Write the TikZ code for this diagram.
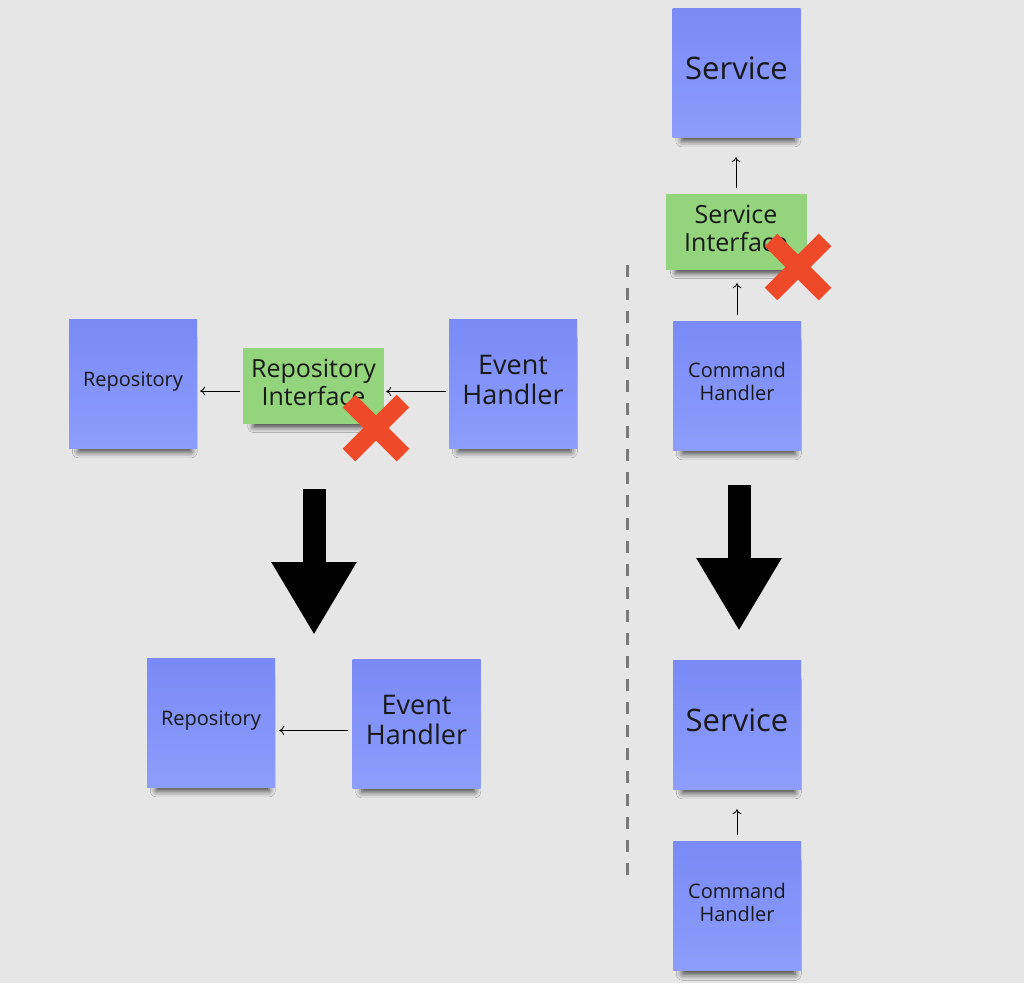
\documentclass[tikz,border=0pt]{standalone}
\usepackage{fontspec}
\setmainfont{Open Sans}
\usetikzlibrary{positioning,arrows.meta,shadows.blur}
\definecolor{bg}{HTML}{E6E6E6}
\definecolor{stickytop}{HTML}{7A8AF6}
\definecolor{stickybot}{HTML}{8C9DFB}
\definecolor{ifacegreen}{HTML}{93D47D}
\definecolor{crossred}{HTML}{EE4A2A}
\definecolor{divgray}{HTML}{7A7A7A}

\begin{document}
\begin{tikzpicture}[x=1pt,y=-1pt,
	sticky/.style={minimum width=128pt,minimum height=129pt,inner sep=0pt,align=center,text depth=8pt,
		top color=stickytop,bottom color=stickybot,text=black!90,
		blur shadow={shadow xshift=2pt,shadow yshift=-13pt,shadow scale=0.88,shadow opacity=75,shadow blur radius=7pt}},
	iface/.style={minimum width=141pt,minimum height=76pt,inner sep=0pt,align=center,text depth=8pt,fill=ifacegreen,text=black!90,
		font={\fontsize{25}{28}\selectfont},
		blur shadow={shadow xshift=2pt,shadow yshift=-9pt,shadow scale=0.88,shadow opacity=70,shadow blur radius=6pt}},
	link/.style={draw=black,line width=0.8pt,-{To[length=5pt,width=9pt]}},
	bigarrow/.style={draw=black,line width=23pt,-{Triangle[length=73pt,width=80pt]}},
	cross/.style={draw=crossred,line width=18pt}]
\useasboundingbox[fill=bg] (0,0) rectangle (1024,983);

% right side
\node[sticky,font={\fontsize{31}{34}\selectfont}] (svcTop) at (736.5,72.5) {Service};
\node[iface] (svcIf) at (736,232) {Service\\Interface};
\node[sticky,font={\fontsize{20}{23}\selectfont}] (cmdTop) at (737,385.5) {Command\\Handler};
\node[sticky,font={\fontsize{31}{34}\selectfont}] (svcBot) at (737,724.5) {Service};
\node[sticky,font={\fontsize{20}{23}\selectfont}] (cmdBot) at (737,906) {Command\\Handler};

% left side
\node[sticky,font={\fontsize{20}{23}\selectfont}] (repoTop) at (133,383.5) {Repository};
\node[iface] (repoIf) at (313.5,386) {Repository\\Interface};
\node[sticky,font={\fontsize{27}{30}\selectfont}] (evtTop) at (513,383.5) {Event\\Handler};
\node[sticky,font={\fontsize{20}{23}\selectfont}] (repoBot) at (211,722.5) {Repository};
\node[sticky,font={\fontsize{27}{30}\selectfont}] (evtBot) at (416.5,723.5) {Event\\Handler};

% small arrows
\draw[link,shorten <=6pt,shorten >=20pt] (svcIf.north) -- (svcIf.north |- svcTop.south);
\draw[link,shorten <=6pt,shorten >=13pt] (cmdTop.north) -- (cmdTop.north |- svcIf.south);
\draw[link,shorten <=6pt,shorten >=20pt] (cmdBot.north) -- (cmdBot.north |- svcBot.south);
\draw[link,shorten <=3pt,shorten >=2pt] ([yshift=-8pt]evtTop.west) -- ([yshift=-8pt]evtTop.west -| repoIf.east);
\draw[link,shorten <=3pt,shorten >=3pt] ([yshift=-5pt]repoIf.west) -- ([yshift=-5pt]repoIf.west -| repoTop.east);
\draw[link,shorten <=4pt,shorten >=4pt] ([yshift=-7pt]evtBot.west) -- ([yshift=-7pt]evtBot.west -| repoBot.east);

% crosses on the interfaces
\coordinate (repoX) at (376,428);
\coordinate (svcX) at (798,267);
\foreach \c in {repoX,svcX} {
	\draw[cross] ([shift={(-27,-27)}]\c) -- ([shift={(27,27)}]\c);
	\draw[cross] ([shift={(-27,27)}]\c) -- ([shift={(27,-27)}]\c);
}

% big arrows
\coordinate (leftFrom) at (314,489);
\coordinate (leftTo) at (314,635);
\coordinate (rightFrom) at (739,485);
\coordinate (rightTo) at (739,631);
\draw[bigarrow] (leftFrom) -- (leftTo);
\draw[bigarrow] (rightFrom) -- (rightTo);

% divider
\coordinate (divTop) at (627,265);
\coordinate (divBot) at (627,878);
\draw[divgray,line width=3pt,dash pattern=on 12pt off 11pt] (divTop) -- (divBot);
\end{tikzpicture}
\end{document}
